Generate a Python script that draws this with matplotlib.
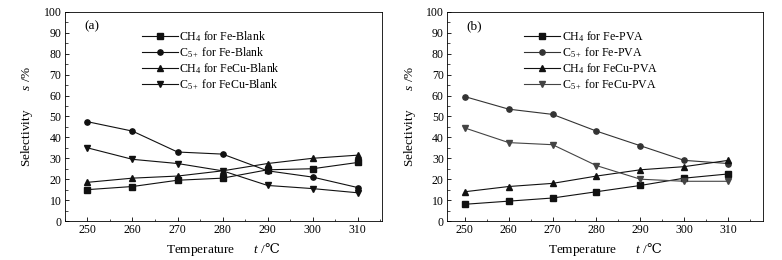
import numpy as np
import matplotlib
matplotlib.use("Agg")
import matplotlib.pyplot as plt
from matplotlib.ticker import MultipleLocator

plt.rcParams.update({
    'font.family': ['Liberation Serif', 'DejaVu Serif'],
    'font.size': 8.5,
    'mathtext.fontset': 'custom',
    'mathtext.rm': 'Liberation Serif',
    'mathtext.it': 'Liberation Serif:italic',
    'mathtext.sf': 'DejaVu Serif',
    'xtick.direction': 'in',
    'ytick.direction': 'in',
    'axes.linewidth': 0.6,
})

temps = [250, 260, 270, 280, 290, 300, 310]

# (a) blank catalysts
ch4_fe_blank = [15, 16.5, 19.5, 20.5, 24.5, 25, 28]
c5_fe_blank = [47.5, 43, 33, 32, 24, 21, 16]
ch4_fecu_blank = [18.5, 20.5, 21.5, 24, 27.5, 30, 31.5]
c5_fecu_blank = [35, 29.5, 27.5, 24, 17, 15.5, 13.5]

# (b) PVA catalysts
ch4_fe_pva = [8, 9.5, 11, 14, 17, 20.5, 22.5]
c5_fe_pva = [59.5, 53.5, 51, 43, 36, 29, 27.5]
ch4_fecu_pva = [14, 16.5, 18, 21.5, 24.5, 26, 29]
c5_fecu_pva = [44.5, 37.5, 36.5, 26.5, 20, 19, 19]

labels_a = ['CH$_4$ for Fe-Blank', 'C$_{5+}$ for Fe-Blank',
            'CH$_4$ for FeCu-Blank', 'C$_{5+}$ for FeCu-Blank']
labels_b = ['CH$_4$ for Fe-PVA', 'C$_{5+}$ for Fe-PVA',
            'CH$_4$ for FeCu-PVA', 'C$_{5+}$ for FeCu-PVA']
markers = ['s', 'o', '^', 'v']

fig = plt.figure(figsize=(7.82, 2.6), dpi=100)
ax_a = fig.add_axes([0.083, 0.15, 0.405, 0.804])
ax_b = fig.add_axes([0.572, 0.15, 0.404, 0.804])


def draw(ax, series, labels, colors, tag, xlim):
    for ys, lab, mk, c in zip(series, labels, markers, colors):
        ax.plot(temps, ys, color=c, marker=mk, markersize=3.8, linewidth=0.8, label=lab)
    ax.set_xlim(*xlim)
    ax.set_ylim(0, 100)
    ax.xaxis.set_major_locator(MultipleLocator(10))
    ax.xaxis.set_minor_locator(MultipleLocator(5))
    ax.yaxis.set_major_locator(MultipleLocator(10))
    ax.yaxis.set_minor_locator(MultipleLocator(5))
    ax.tick_params(which='major', length=3, width=0.6, top=False, right=False, pad=2.5)
    ax.tick_params(which='minor', length=1.8, width=0.5, top=False, right=False)
    ax.set_xlabel('Temperature      $t$ /$\\mathsf{\u2103}$', fontsize=9.5, labelpad=3)
    ax.set_ylabel('Selectivity      $s$ /%', fontsize=9.5, labelpad=6)
    ax.text(0.06, 0.93, tag, transform=ax.transAxes, ha='left', va='center', fontsize=9.5)
    ax.legend(loc='upper left', bbox_to_anchor=(0.22, 0.95), frameon=False,
              fontsize=8.6, handlelength=3.0, handletextpad=0.15, labelspacing=0.1,
              borderaxespad=0.2)


draw(ax_a, [ch4_fe_blank, c5_fe_blank, ch4_fecu_blank, c5_fecu_blank],
     labels_a, ['#111111'] * 4, '(a)', (245, 315.3))
draw(ax_b, [ch4_fe_pva, c5_fe_pva, ch4_fecu_pva, c5_fecu_pva],
     labels_b, ['#111111', '#333333', '#111111', '#444444'], '(b)', (246, 318))

fig.savefig('out.png', dpi=100)
